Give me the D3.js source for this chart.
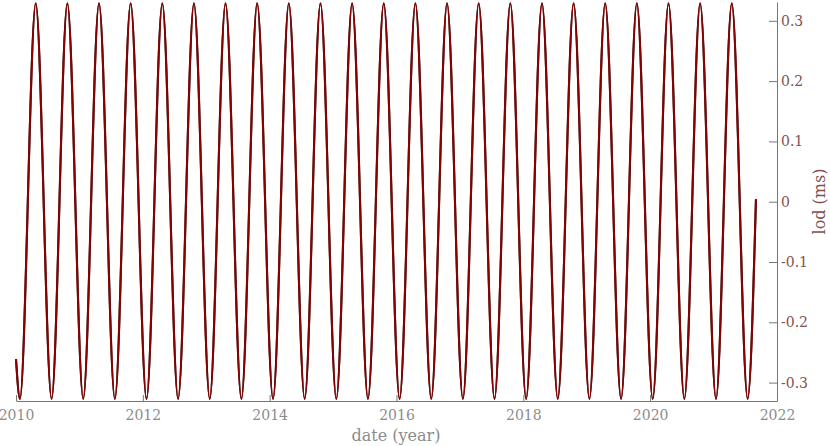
<!DOCTYPE html>
<html>
<head>
<meta charset="utf-8">
<script src="https://cdn.jsdelivr.net/npm/d3@7"></script>
<style>
  body { margin: 0; background: #fff; }
  svg { display: block; }
</style>
</head>
<body>
<div id="chart"></div>
<script>
// values: start / end points and every crest and trough
var startPoint = { year: 2010.000, lod: -0.261 };
var endPoint = { year: 2021.668, lod: 0.004 };

var peakYears = [2010.311, 2010.810, 2011.309, 2011.808, 2012.307, 2012.806, 2013.304, 2013.803,
  2014.302, 2014.801, 2015.300, 2015.799, 2016.298, 2016.797, 2017.296, 2017.795,
  2018.294, 2018.793, 2019.291, 2019.790, 2020.289, 2020.788, 2021.287];
var peakValues = [0.329, 0.329, 0.329, 0.329, 0.329, 0.329, 0.329, 0.329,
  0.329, 0.329, 0.329, 0.329, 0.329, 0.329, 0.329, 0.329,
  0.329, 0.329, 0.329, 0.329, 0.329, 0.329, 0.329];

var troughYears = [2010.062, 2010.561, 2011.060, 2011.559, 2012.058, 2012.556, 2013.055, 2013.554,
  2014.053, 2014.552, 2015.051, 2015.550, 2016.049, 2016.548, 2017.047, 2017.545,
  2018.044, 2018.543, 2019.042, 2019.541, 2020.040, 2020.539, 2021.038, 2021.537];
var troughValues = [-0.327, -0.327, -0.327, -0.327, -0.327, -0.327, -0.327, -0.327,
  -0.327, -0.327, -0.327, -0.327, -0.327, -0.327, -0.327, -0.327,
  -0.327, -0.327, -0.327, -0.327, -0.327, -0.327, -0.327, -0.327];

var xTicks = [2010, 2012, 2014, 2016, 2018, 2020, 2022];
var yTicks = [-0.3, -0.2, -0.1, 0, 0.1, 0.2, 0.3];

(function() {
  var width = 830, height = 446;
  var serif = "DejaVu Serif";

  var svg = d3.select("#chart")
    .append("svg")
    .attr("width", width)
    .attr("height", height);

  var xPositionScale = d3.scaleLinear().domain([2010, 2022]).range([16, 777]);
  var yPositionScale = d3.scaleLinear().domain([-0.3305, 0.3312]).range([401, 2]);

  // merge crests and troughs into one series
  var points = [startPoint, endPoint];
  peakYears.forEach(function(y, i) { points.push({ year: y, lod: peakValues[i] }); });
  troughYears.forEach(function(y, i) { points.push({ year: y, lod: troughValues[i] }); });
  points.sort(function(a, b) { return a.year - b.year; });

  var line = d3.line()
    .x(function(d) { return xPositionScale(d.year); })
    .y(function(d) { return yPositionScale(d.lod); })
    .curve(d3.curveMonotoneX);

  // observed (black) under the fitted (dark red)
  svg.append("path")
    .datum(points)
    .attr("d", line)
    .attr("fill", "none")
    .attr("stroke", "#222")
    .attr("stroke-width", 2.1);

  svg.append("path")
    .datum(points)
    .attr("d", line)
    .attr("fill", "none")
    .attr("stroke", "#8a0000")
    .attr("stroke-width", 2);

  // x axis
  var xAxis = d3.axisBottom(xPositionScale)
    .tickValues(xTicks)
    .tickFormat(d3.format("d"))
    .tickSizeInner(-6)
    .tickSizeOuter(0)
    .tickPadding(9);

  var gx = svg.append("g")
    .attr("class", "x-axis")
    .attr("transform", "translate(0,401)")
    .call(xAxis)
    .attr("font-family", serif)
    .attr("font-size", 14);
  gx.select(".domain").attr("stroke", "#777");
  gx.selectAll(".tick line").attr("stroke", "#777");
  gx.selectAll("text").attr("fill", "#8c8c8c");

  // y axis on the right
  var yAxis = d3.axisRight(yPositionScale)
    .tickValues(yTicks)
    .tickFormat(function(d) { return d === 0 ? "0" : String(+d.toFixed(1)); })
    .tickSizeInner(-8)
    .tickSizeOuter(0)
    .tickPadding(4);

  var gy = svg.append("g")
    .attr("class", "y-axis")
    .attr("transform", "translate(777,0)")
    .call(yAxis)
    .attr("font-family", serif)
    .attr("font-size", 14);
  gy.select(".domain").attr("stroke", "#777");
  gy.selectAll(".tick line").attr("stroke", "#777");
  gy.selectAll("text").attr("fill", "#855050");

  // axis labels
  svg.append("text")
    .attr("x", 396)
    .attr("y", 441)
    .attr("text-anchor", "middle")
    .attr("fill", "#8c8c8c")
    .attr("font-family", serif)
    .attr("font-size", 16)
    .text("date (year)");

  svg.append("text")
    .attr("transform", "translate(825,201.5) rotate(-90)")
    .attr("text-anchor", "middle")
    .attr("fill", "#855050")
    .attr("font-family", serif)
    .attr("font-size", 16)
    .text("lod (ms)");
})();
</script>
</body>
</html>
